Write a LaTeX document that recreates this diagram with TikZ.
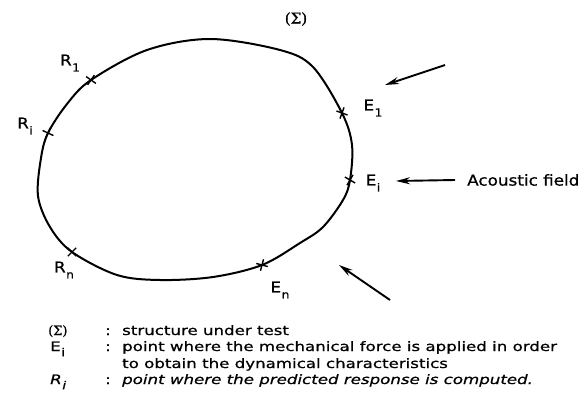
\documentclass[tikz,border=0pt]{standalone}
\usepackage{fontspec}
\setmainfont{DejaVu Sans}[FakeStretch=1.12,FakeBold=0.8]
\newfontfamily\legfont{DejaVu Sans}[FakeStretch=1.28,FakeBold=0.8]
\newfontfamily\sigfont{DejaVu Serif}[FakeBold=1]
\usetikzlibrary{arrows.meta,shapes.misc}
\newcommand\sublab[2]{#1\kern0.5pt\raisebox{-0.4em}{\fontsize{11}{11}\selectfont #2}}
\begin{document}
\begin{tikzpicture}[x=1pt,y=-1pt,
  lbl/.style={font=\fontsize{15}{17}\selectfont, inner sep=0pt},
  mk/.style={cross out, draw, line width=1.4pt, minimum size=7pt, inner sep=0pt},
  curve/.style={line width=2pt},
  push/.style={line width=1.9pt, -{Stealth[length=14pt,width=7pt]}},
  leg/.style={font=\legfont\fontsize{13}{15}\selectfont, anchor=base west, inner sep=0pt}]
\useasboundingbox (0,0) rectangle (585,399);
\draw[curve] plot[smooth cycle, tension=0.55] coordinates {
  (210,39) (280,50) (313,67) (342,113) (352,145) (350,180) (343,200)
  (323,227) (300,243) (262,265) (213,277) (160,280) (117,275) (72,252)
  (50,227) (38,196) (41,158) (48,133) (67,104) (91,80) (147,50)};
% marks
\node[mk, rotate=10] (mR1) at (91,80) {};
\node[mk, rotate=20] (mRi) at (48,133) {};
\node[mk, rotate=0] (mRn) at (72,252) {};
\node[mk, rotate=30] (mEn) at (262,265) {};
\node[mk, rotate=15] (mEi) at (350,180) {};
\node[mk, rotate=25] (mE1) at (342,113) {};
% labels
\node[lbl] (Sig) at (296,19) {\sigfont\fontsize{15}{17}\selectfont(Σ)};
\node[lbl] (tR1) at (70,63) {\sublab{R}{1}};
\node[lbl] (tRi) at (25,126) {\sublab{R}{i}};
\node[lbl] (tRn) at (64,270) {\sublab{R}{n}};
\node[lbl] (tEn) at (280,290) {\sublab{E}{n}};
\node[lbl] (tE1) at (373,108) {\sublab{E}{1}};
\node[lbl] (tEi) at (373,183) {\sublab{E}{i}};
\node[lbl, anchor=west] (acf) at (467,180) {Acoustic field};
% arrows
\coordinate (a1s) at (445,65);
\coordinate (a1e) at (385,85);
\draw[push] (a1s) -- (a1e);
\coordinate (a2s) at (455,180);
\coordinate (a2e) at (396,181);
\draw[push] (a2s) -- (a2e);
\coordinate (a3s) at (390,300);
\coordinate (a3e) at (339,265);
\draw[push] (a3s) -- (a3e);
% legend
\node[leg] (l1s) at (48,335) {\sigfont(Σ)};
\node[leg] (l1c) at (105,335) {:};
\node[leg] (l1t) at (122,335) {structure under test};
\node[leg] (l2s) at (50,351) {\sublab{E}{i}};
\node[leg] (l2c) at (105,351) {:};
\node[leg] (l2t) at (122,351) {point where the mechanical force is applied in order};
\node[leg] (l3t) at (122,368) {to obtain the dynamical characteristics};
\node[leg] (l4s) at (50,384) {\itshape\sublab{R}{i}};
\node[leg] (l4c) at (105,384) {:};
\node[leg] (l4t) at (122,384) {\itshape point where the predicted response is computed.};
\end{tikzpicture}
\end{document}
